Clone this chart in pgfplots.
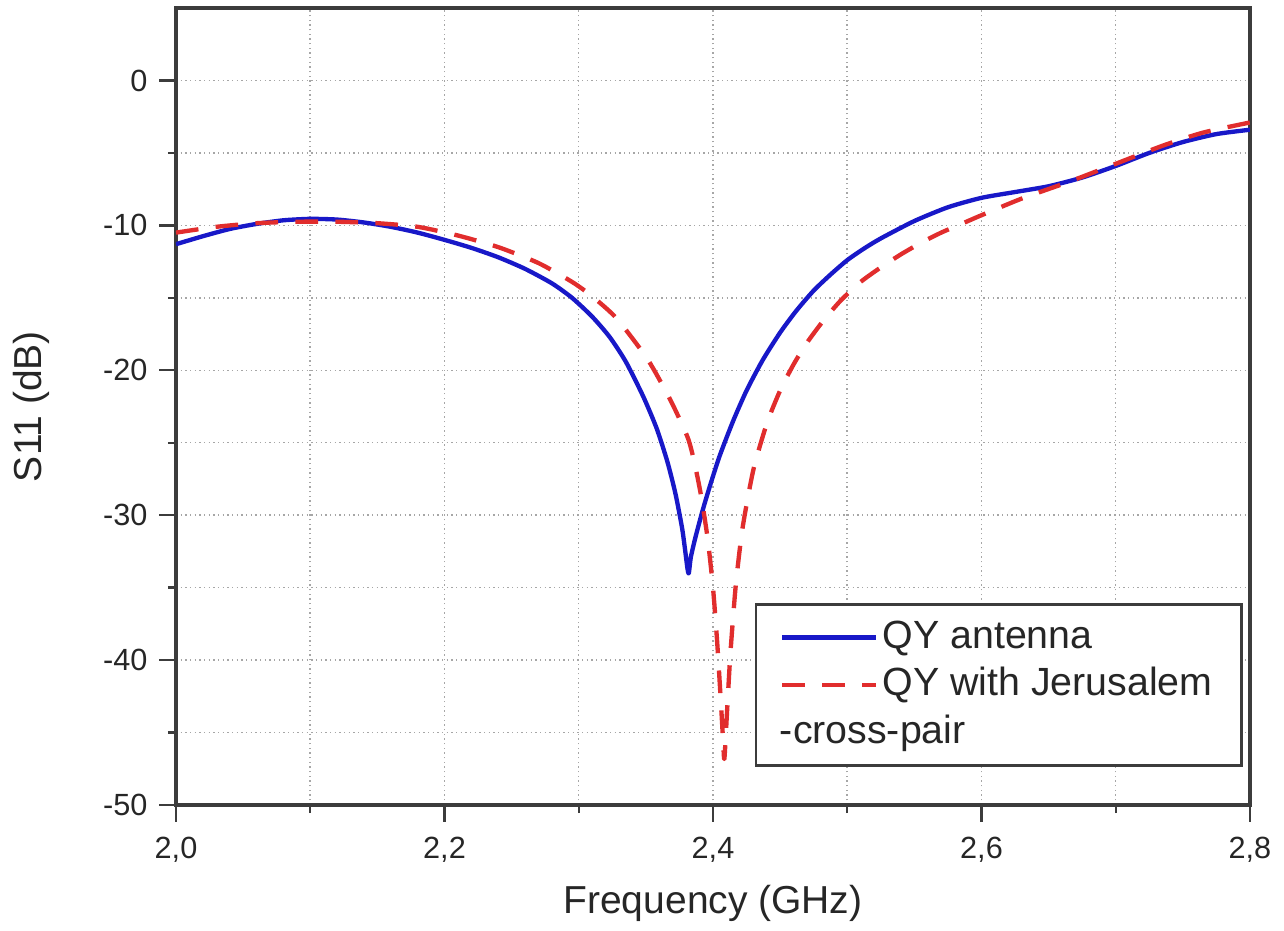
\documentclass[border=0pt]{standalone}
\usepackage{fontspec}
\setmainfont{Liberation Sans}
\usepackage{pgfplots}
\pgfplotsset{compat=1.18}
\definecolor{cblue}{RGB}{24,24,200}
\definecolor{cred}{RGB}{225,45,45}
\definecolor{axgray}{RGB}{60,60,60}
\begin{document}
\begin{tikzpicture}
\path[use as bounding box] (-52.8pt,-37.5pt) rectangle (332.4pt,241.5pt);
\begin{axis}[
  at={(0pt,0pt)}, anchor=south west,
  scale only axis,
  width=322.2pt, height=239.1pt,
  xmin=2.0, xmax=2.8, ymin=-50, ymax=5,
  xtick={2.0,2.2,2.4,2.6,2.8},
  xticklabels={{2,0},{2,2},{2,4},{2,6},{2,8}},
  minor xtick={2.1,2.3,2.5,2.7},
  ytick={-50,-40,-30,-20,-10,0},
  yticklabels={-50,-40,-30,-20,-10,0},
  minor ytick={-45,-35,-25,-15,-5},
  /pgf/number format/assume math mode=true,
  tick pos=left,
  tick align=outside,
  major tick length=5pt,
  minor tick length=2.4pt,
  tick style={axgray, line width=0.7pt},
  axis line style={axgray, line width=1pt},
  grid=both,
  major grid style={densely dotted, black!35, line width=0.45pt},
  minor grid style={densely dotted, black!35, line width=0.45pt},
  ticklabel style={font=\fontsize{9.2}{11}\selectfont, text=black!85},
  xticklabel style={anchor=base, yshift=-10.9pt},
  xlabel={Frequency (GHz)},
  ylabel={S11 (dB)},
  label style={font=\fontsize{11.7}{14}\selectfont, text=black!85},
  xlabel style={at={(axis description cs:0.5,-0.1355)}, anchor=base},
  ylabel style={at={(axis description cs:-0.135,0.5)}, anchor=center},
  legend cell align=left,
  legend image code/.code={\draw[#1] (0pt,0pt) -- (28pt,0pt);},
  legend style={at={(0.9935,0.0477)}, anchor=south east,
    draw=axgray, line width=0.8pt,
    inner xsep=7.3pt, inner ysep=4.5pt, row sep=3.45pt,
    font=\fontsize{11.8}{14}\selectfont, text=black!85,
    nodes={inner xsep=1.4pt, inner ysep=0pt, text height=8.6pt, text depth=2.2pt}},
]
\addplot[cblue, line width=1.3pt, line join=round, smooth, tension=0.4] coordinates {
(2.000,-11.3) (2.020,-10.75) (2.040,-10.25) (2.060,-9.9) (2.080,-9.65)
(2.100,-9.55) (2.120,-9.6) (2.140,-9.8) (2.160,-10.1) (2.180,-10.5)
(2.200,-11.0) (2.220,-11.55) (2.240,-12.2) (2.260,-13.0) (2.280,-14.0)
(2.295,-15.0) (2.310,-16.3) (2.323,-17.7) (2.335,-19.4) (2.348,-21.8)
(2.358,-24.0) (2.366,-26.3) (2.372,-28.5) (2.377,-30.9) (2.3795,-32.6)
(2.381,-33.7) (2.382,-34.0) (2.3835,-32.9) (2.387,-31.5) (2.3925,-29.6)
(2.398,-27.9) (2.405,-25.9) (2.415,-23.5) (2.425,-21.4) (2.437,-19.3)
(2.450,-17.4) (2.462,-15.9) (2.475,-14.5) (2.4875,-13.4) (2.500,-12.4)
(2.5125,-11.6) (2.525,-10.9) (2.550,-9.7) (2.575,-8.75) (2.600,-8.1)
(2.625,-7.7) (2.650,-7.3) (2.675,-6.7) (2.700,-5.9) (2.725,-5.0)
(2.750,-4.25) (2.775,-3.7) (2.800,-3.4)
};
\addlegendentry{QY antenna}
\addplot[cred, line width=1.3pt, dash pattern=on 6.8pt off 5.2pt, line join=round, smooth, tension=0.4] coordinates {
(2.000,-10.5) (2.030,-10.1) (2.060,-9.85) (2.090,-9.75) (2.120,-9.75)
(2.150,-9.85) (2.180,-10.1) (2.210,-10.7) (2.240,-11.5) (2.270,-12.6)
(2.295,-13.9) (2.310,-14.9) (2.328,-16.4) (2.351,-19.2) (2.368,-22.0)
(2.381,-24.6) (2.386,-26.3) (2.391,-28.6) (2.396,-31.6) (2.400,-35.0)
(2.403,-38.6) (2.4055,-42.3) (2.4075,-45.5) (2.4085,-46.8) (2.4105,-43.5)
(2.413,-39.5) (2.417,-34.8) (2.422,-30.9) (2.430,-26.9) (2.440,-23.7)
(2.450,-21.4) (2.460,-19.6) (2.470,-18.1) (2.482,-16.6) (2.495,-15.2)
(2.510,-13.9) (2.525,-12.9) (2.540,-12.0) (2.555,-11.2) (2.570,-10.5)
(2.585,-9.9) (2.600,-9.3) (2.630,-8.15) (2.665,-7.0) (2.700,-5.75)
(2.735,-4.5) (2.765,-3.6) (2.800,-2.9)
};
\addlegendentry{QY with Jerusalem}
\addlegendimage{empty legend}
\addlegendentry{\hspace*{-30.8pt}-cross-pair}
\end{axis}
\end{tikzpicture}
\end{document}
